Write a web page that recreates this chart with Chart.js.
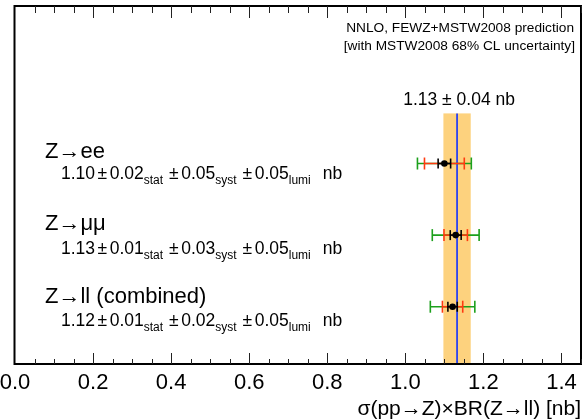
<!DOCTYPE html>
<html>
<head>
<meta charset="utf-8">
<script src="https://cdn.jsdelivr.net/npm/chart.js@4/dist/chart.umd.min.js"></script>
<style>
  html, body { margin: 0; padding: 0; background: #fff; }
</style>
</head>
<body>
<canvas id="xsecChart" width="585" height="420"></canvas>
<script>
const channels = ["Z\u2192ee", "Z\u2192\u03bc\u03bc", "Z\u2192ll (combined)"];
const measured = [1.100, 1.129, 1.121];
const statErr = [0.016, 0.014, 0.012];
const statSystErr = [0.051, 0.030, 0.026];
const totalErr = [0.069, 0.060, 0.057];
const valueText = ["1.10", "1.13", "1.12"];
const statText = ["0.02", "0.01", "0.01"];
const systText = ["0.05", "0.03", "0.02"];
const lumiText = ["0.05", "0.05", "0.05"];

// theory prediction
const theory = 1.1325;
const theoryErr = 0.035;
const theoryLabel = "1.13 \u00b1 0.04 nb";
const predictionNote = ["NNLO, FEWZ+MSTW2008 prediction", "[with MSTW2008 68% CL uncertainty]"];

const xTicks = [0.0, 0.2, 0.4, 0.6, 0.8, 1.0, 1.2, 1.4];
const xTitle = "\u03c3(pp\u2192Z)\u00d7BR(Z\u2192ll) [nb]";

// layout
const FONT = "'Liberation Sans', Arial, sans-serif";
const rowY = i => 2.8 - i;
const bandTop = 3.5;
const titleDy = [-6, -5, -4];
const subDy = [15, 19, 19.5];

function line(ctx, x1, y1, x2, y2) {
  ctx.beginPath();
  ctx.moveTo(x1, y1);
  ctx.lineTo(x2, y2);
  ctx.stroke();
}

function drawResult(ctx, x0, base, i) {
  let x = x0;
  const seg = (t, sub) => {
    ctx.font = (sub ? "12px " : "17.5px ") + FONT;
    ctx.fillText(t, x, sub ? base + 5 : base);
    x += ctx.measureText(t).width;
  };
  seg(valueText[i]); x += 2.5; seg("\u00b1"); x += 2.5; seg(statText[i]); seg("stat", true);
  x += 6; seg("\u00b1"); x += 2.5; seg(systText[i]); seg("syst", true);
  x += 6; seg("\u00b1"); x += 2.5; seg(lumiText[i]); seg("lumi", true);
  x += 12; seg("nb");
}

const physicsPlot = {
  id: "physicsPlot",
  beforeDatasetsDraw(chart) {
    const { ctx, chartArea: a, scales: { x, y } } = chart;
    ctx.save();

    // theory band + central line
    const bl = x.getPixelForValue(theory - theoryErr);
    const br = x.getPixelForValue(theory + theoryErr);
    const bt = y.getPixelForValue(bandTop);
    ctx.fillStyle = "#fdd27e";
    ctx.fillRect(bl, bt, br - bl, a.bottom - bt);
    const cx = x.getPixelForValue(theory);
    ctx.strokeStyle = "#1030ff";
    ctx.lineWidth = 1.6;
    line(ctx, cx, bt, cx, a.bottom);

    // error bars: total, stat+syst, stat
    const bars = [[totalErr, "#1ca01c", 6], [statSystErr, "#ff3a10", 6], [statErr, "#000", 5]];
    measured.forEach((v, i) => {
      const py = y.getPixelForValue(rowY(i));
      bars.forEach(([err, color, cap]) => {
        const l = x.getPixelForValue(v - err[i]);
        const r = x.getPixelForValue(v + err[i]);
        ctx.strokeStyle = color;
        ctx.lineWidth = 1.6;
        line(ctx, l, py, r, py);
        line(ctx, l, py - cap, l, py + cap);
        line(ctx, r, py - cap, r, py + cap);
      });
    });
    ctx.restore();
  },
  afterDraw(chart) {
    const { ctx, chartArea: a, scales: { x, y } } = chart;
    ctx.save();

    // frame
    ctx.strokeStyle = "#000";
    ctx.lineWidth = 2;
    ctx.strokeRect(a.left - 0.5, a.top, a.right - a.left + 0.5, a.bottom - a.top);

    // ticks, bottom and mirrored on top
    ctx.lineWidth = 1;
    ctx.strokeStyle = "#222";
    for (let k = 1; k <= 29; k++) {
      const px = Math.round(x.getPixelForValue(k * 0.05)) + 0.5;
      const major = k % 4 === 0;
      line(ctx, px, a.bottom, px, a.bottom - (major ? 11 : 5));
      line(ctx, px, a.top, px, a.top + (major ? 12 : 7));
    }

    // tick labels
    ctx.fillStyle = "#000";
    ctx.textAlign = "center";
    ctx.textBaseline = "alphabetic";
    ctx.font = "22px " + FONT;
    xTicks.forEach(t => ctx.fillText(t.toFixed(1), x.getPixelForValue(t), 388.5));

    // axis title
    ctx.textAlign = "right";
    ctx.font = "21px " + FONT;
    ctx.fillText(xTitle, a.right, 415);

    // prediction note
    ctx.font = "13.7px " + FONT;
    ctx.fillText(predictionNote[0], 574, 32);
    ctx.fillText(predictionNote[1], 575, 49.5);

    // theory value
    ctx.textAlign = "center";
    ctx.font = "17.5px " + FONT;
    ctx.fillText(theoryLabel, x.getPixelForValue(theory) + 2, 104.5);

    // channel labels
    ctx.textAlign = "left";
    channels.forEach((c, i) => {
      const py = y.getPixelForValue(rowY(i));
      ctx.font = "22px " + FONT;
      ctx.fillText(c, 45, py + titleDy[i]);
      drawResult(ctx, 61, py + subDy[i], i);
    });
    ctx.restore();
  }
};

new Chart(document.getElementById("xsecChart"), {
  type: "scatter",
  data: {
    datasets: [{
      data: measured.map((v, i) => ({ x: v, y: rowY(i) })),
      backgroundColor: "#000",
      borderWidth: 0,
      pointRadius: 3.3
    }]
  },
  options: {
    responsive: false,
    animation: false,
    devicePixelRatio: 1,
    layout: { padding: { left: 15, right: 2, top: 6, bottom: 56 } },
    plugins: { legend: { display: false }, tooltip: { enabled: false } },
    scales: {
      x: { type: "linear", min: 0, max: 1.45, display: false },
      y: { type: "linear", min: 0, max: 5, display: false }
    }
  },
  plugins: [physicsPlot]
});
</script>
</body>
</html>
